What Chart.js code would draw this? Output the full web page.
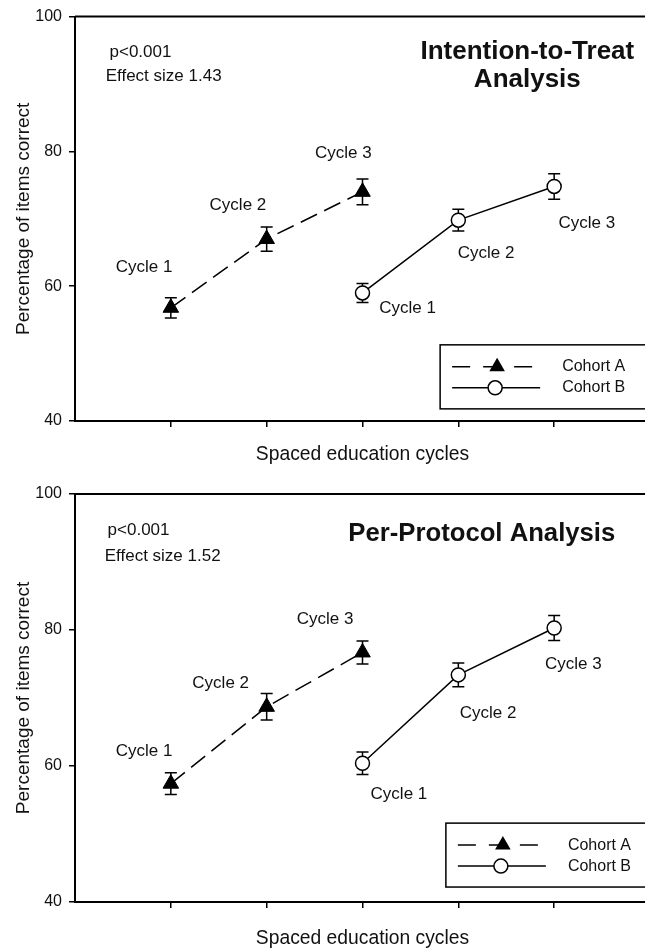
<!DOCTYPE html>
<html><head><meta charset="utf-8">
<script src="https://cdn.jsdelivr.net/npm/chart.js@4.4.1/dist/chart.umd.min.js"></script>
<style>
html,body{margin:0;padding:0;background:#fff;}
#wrap{position:relative;width:645px;height:950px;overflow:hidden;background:#fff;}
canvas{position:absolute;left:0;}
#c1{top:0;} #c2{top:470px;}
</style></head><body>
<div id="wrap"><canvas id="c1" width="660" height="470"></canvas><canvas id="c2" width="660" height="480"></canvas></div>
<script>
// ---------- data ----------
const cyclePositions = [1, 2, 3, 4, 5];
const cohortAX = [1, 2, 3];
const cohortBX = [3, 4, 5];
const cycleNames = ['Cycle 1', 'Cycle 2', 'Cycle 3'];
const yTickValues = [40, 60, 80, 100];
const seriesNames = ['Cohort A', 'Cohort B'];

// Intention-to-Treat
const ittCohortA = [56.8, 67.0, 74.0];
const ittCohortAErr = [1.5, 1.8, 1.9];
const ittCohortB = [59.0, 69.8, 74.8];
const ittCohortBErr = [1.4, 1.6, 1.9];

// Per-Protocol
const ppCohortA = [57.4, 68.7, 76.7];
const ppCohortAErr = [1.6, 1.95, 1.7];
const ppCohortB = [60.4, 73.4, 80.3];
const ppCohortBErr = [1.65, 1.75, 1.85];

// label anchors (data units)
const ittLabelsA = [[0.72, 62.8], [1.70, 72.0], [2.80, 79.7]];
const ittLabelsB = [[3.47, 56.7], [4.29, 64.9], [5.34, 69.3]];
const ppLabelsA = [[0.72, 62.2], [1.52, 72.1], [2.61, 81.5]];
const ppLabelsB = [[3.38, 55.9], [4.31, 67.8], [5.20, 74.9]];

const FONT = '"Liberation Sans", Arial, Helvetica, sans-serif';

const decorPlugin = {
  id: 'decor',
  beforeDatasetsDraw(chart) {
    const {ctx, scales: {x, y}} = chart;
    ctx.save();
    ctx.strokeStyle = '#000';
    ctx.lineWidth = 1.5;
    chart.data.datasets.forEach(ds => {
      ds.data.forEach((p, i) => {
        const e = ds.errors[i];
        const px = x.getPixelForValue(p.x);
        const yt = y.getPixelForValue(p.y + e);
        const yb = y.getPixelForValue(p.y - e);
        ctx.beginPath();
        ctx.moveTo(px, yt); ctx.lineTo(px, yb);
        ctx.moveTo(px - 6, yt); ctx.lineTo(px + 6, yt);
        ctx.moveTo(px - 6, yb); ctx.lineTo(px + 6, yb);
        ctx.stroke();
      });
    });
    ctx.restore();
  },
  afterDraw(chart) {
    const o = chart.options.plugins.decor;
    const {ctx, chartArea: ca, scales: {x, y}} = chart;
    ctx.save();
    // top frame
    ctx.strokeStyle = '#000';
    ctx.lineWidth = 2;
    ctx.beginPath();
    ctx.moveTo(ca.left, ca.top); ctx.lineTo(ca.right + 2, ca.top);
    ctx.stroke();
    // texts
    ctx.fillStyle = '#111';
    ctx.textBaseline = 'middle';
    o.texts.forEach(t => {
      ctx.font = t.font;
      ctx.textAlign = t.align || 'center';
      ctx.fillText(t.text, x.getPixelForValue(t.x), y.getPixelForValue(t.y));
    });
    // legend
    const L = o.legend;
    const lx = x.getPixelForValue(L.x);
    const ly = y.getPixelForValue(L.yTop);
    const lb = y.getPixelForValue(L.yBottom);
    ctx.lineWidth = 1.5;
    ctx.strokeStyle = '#000';
    ctx.strokeRect(lx, ly, ca.right + 20 - lx, lb - ly);
    const rowA = ly + 22, rowB = ly + 43;
    // cohort A sample
    ctx.lineWidth = 1.5;
    ctx.setLineDash([18, 13]);
    ctx.beginPath(); ctx.moveTo(lx + 12, rowA); ctx.lineTo(lx + 92, rowA); ctx.stroke();
    ctx.setLineDash([]);
    const tr = 9, tx = lx + 57;
    ctx.fillStyle = '#000';
    ctx.beginPath();
    ctx.moveTo(tx, rowA - tr);
    ctx.lineTo(tx + Math.sin(2 * Math.PI / 3) * tr, rowA - Math.cos(2 * Math.PI / 3) * tr);
    ctx.lineTo(tx + Math.sin(4 * Math.PI / 3) * tr, rowA - Math.cos(4 * Math.PI / 3) * tr);
    ctx.closePath(); ctx.fill();
    // cohort B sample
    ctx.beginPath(); ctx.moveTo(lx + 12, rowB); ctx.lineTo(lx + 100, rowB); ctx.stroke();
    ctx.beginPath(); ctx.arc(lx + 55, rowB, 7, 0, Math.PI * 2);
    ctx.fillStyle = '#fff'; ctx.fill(); ctx.stroke();
    ctx.fillStyle = '#111';
    ctx.font = '16px ' + FONT;
    ctx.textAlign = 'left';
    ctx.fillText(seriesNames[0], lx + 122, rowA);
    ctx.fillText(seriesNames[1], lx + 122, rowB);
    ctx.restore();
  }
};

function makeChart(id, a, aErr, b, bErr, labelsA, labelsB, extraTexts, legend, padTop, titlePadBottom, xAxisHeight) {
  const texts = [];
  labelsA.forEach((p, i) => texts.push({text: cycleNames[i], x: p[0], y: p[1], font: '17px ' + FONT}));
  labelsB.forEach((p, i) => texts.push({text: cycleNames[i], x: p[0], y: p[1], font: '17px ' + FONT}));
  extraTexts.forEach(t => texts.push(t));
  return new Chart(document.getElementById(id), {
    type: 'scatter',
    data: {
      datasets: [
        {
          label: seriesNames[0],
          data: cohortAX.map((v, i) => ({x: v, y: a[i]})),
          errors: aErr,
          showLine: true,
          borderColor: '#000', borderWidth: 1.5, borderDash: [18, 8],
          pointStyle: 'triangle', pointRadius: 9, pointBackgroundColor: '#000',
          pointBorderColor: '#000', pointBorderWidth: 1
        },
        {
          label: seriesNames[1],
          data: cohortBX.map((v, i) => ({x: v, y: b[i]})),
          errors: bErr,
          showLine: true,
          borderColor: '#000', borderWidth: 1.5,
          pointStyle: 'circle', pointRadius: 7, pointBackgroundColor: '#fff',
          pointBorderColor: '#000', pointBorderWidth: 1.5
        }
      ]
    },
    options: {
      responsive: false, animation: false, devicePixelRatio: 1, events: [],
      layout: {padding: {top: padTop, right: 4, left: 0, bottom: 0}},
      plugins: {legend: {display: false}, tooltip: {enabled: false},
        decor: {texts: texts, legend: legend}},
      scales: {
        x: {
          type: 'linear', min: 0, max: 6,
          afterBuildTicks: s => { s.ticks = cyclePositions.map(v => ({value: v})); },
          afterFit: s => { s.height = xAxisHeight; },
          grid: {drawOnChartArea: false, drawTicks: true, tickLength: 6, color: '#000', lineWidth: 1.5},
          border: {display: true, color: '#000', width: 2},
          ticks: {display: false},
          title: {display: true, text: 'Spaced education cycles', color: '#111',
            font: {family: FONT, size: 19.3}, padding: {top: 0, bottom: titlePadBottom}}
        },
        y: {
          type: 'linear', min: 40, max: 100,
          afterBuildTicks: s => { s.ticks = yTickValues.map(v => ({value: v})); },
          afterFit: s => { s.width = 75; },
          grid: {drawOnChartArea: false, drawTicks: true, tickLength: 6, color: '#000', lineWidth: 1.5},
          border: {display: true, color: '#000', width: 2},
          ticks: {font: {family: FONT, size: 16}, color: '#111', padding: 7},
          title: {display: true, text: 'Percentage of items correct', color: '#111',
            font: {family: FONT, size: 19}, padding: {top: 12, bottom: 0}}
        }
      }
    },
    plugins: [decorPlugin]
  });
}

makeChart('c1', ittCohortA, ittCohortAErr, ittCohortB, ittCohortBErr, ittLabelsA, ittLabelsB, [
  {text: 'p<0.001', x: 0.36, y: 94.75, font: '17px ' + FONT, align: 'left'},
  {text: 'Effect size 1.43', x: 0.32, y: 91.1, font: '17px ' + FONT, align: 'left'},
  {text: 'Intention-to-Treat', x: 4.72, y: 94.8, font: 'bold 26px ' + FONT},
  {text: 'Analysis', x: 4.72, y: 90.6, font: 'bold 26px ' + FONT}
], {x: 3.81, yTop: 51.3, yBottom: 41.8}, 16, 3.6, 49);

makeChart('c2', ppCohortA, ppCohortAErr, ppCohortB, ppCohortBErr, ppLabelsA, ppLabelsB, [
  {text: 'p<0.001', x: 0.34, y: 94.6, font: '17px ' + FONT, align: 'left'},
  {text: 'Effect size 1.52', x: 0.31, y: 90.9, font: '17px ' + FONT, align: 'left'},
  {text: 'Per-Protocol Analysis', x: 4.245, y: 94.07, font: 'bold 25.7px ' + FONT}
], {x: 3.87, yTop: 51.6, yBottom: 42.2}, 24, 0, 48);
</script>
</body></html>
